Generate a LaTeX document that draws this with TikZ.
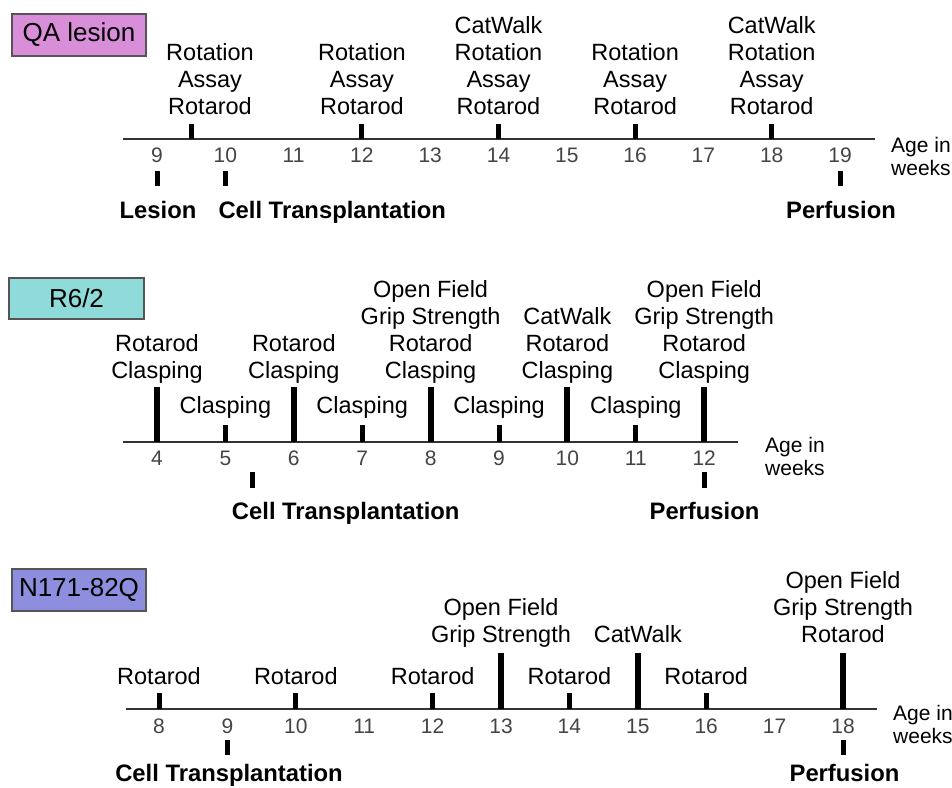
\documentclass[tikz,border=0pt]{standalone}
\usepackage{fontspec}
\setmainfont{Liberation Sans}
\definecolor{qafill}{HTML}{D98ED9}
\definecolor{rfill}{HTML}{8EDBD9}
\definecolor{nfill}{HTML}{8E8EDE}
\definecolor{numgray}{HTML}{444444}
\definecolor{axisgray}{HTML}{333333}
\definecolor{boxgray}{HTML}{555555}
\newcommand{\evl}[1]{\begin{tabular}[b]{@{}c@{}}#1\end{tabular}}
\begin{document}
\begin{tikzpicture}[x=1pt,y=-1pt,
  ev/.style={font=\fontsize{23.5}{27}\selectfont, anchor=base, inner sep=0pt},
  num/.style={font=\fontsize{21}{24}\selectfont, text=numgray, anchor=base, inner sep=0pt},
  boldlab/.style={font=\fontsize{23.8}{27}\selectfont\bfseries, anchor=base, inner sep=0pt},
  agelab/.style={font=\fontsize{21}{23}\selectfont, anchor=base west, inner sep=0pt},
  axis/.style={line width=1.5pt, draw=axisgray},
  tag/.style={draw=boxgray, line width=1.2pt, inner sep=0pt, font=\fontsize{26}{30}\selectfont, minimum width=134pt, minimum height=42pt},
  tickbar/.style={fill=black}]
\useasboundingbox (0,0) rectangle (952,787);

% ---------------- Panel 1: QA lesion ----------------
\node[tag, fill=qafill] (qa) at (79,35) {QA lesion};
\draw[axis] (123,139) -- (875,139);
\foreach \w in {9,...,19} \node[num] (pan1n\w) at ({157+(\w-9)*68.3},162) {\w};
\foreach \x in {191.2,361.9,498.5,635.1,771.7} \fill[tickbar] (\x-2.5,124) rectangle (\x+2.5,139);
\foreach \x in {157,225.3,840} \fill[tickbar] (\x-2.5,171) rectangle (\x+2.5,186);
\node[ev] (pan1a) at (210,114) {\evl{Rotation\\Assay\\Rotarod}};
\node[ev] (pan1b) at (361.9,114) {\evl{Rotation\\Assay\\Rotarod}};
\node[ev] (pan1c) at (498.5,114) {\evl{CatWalk\\Rotation\\Assay\\Rotarod}};
\node[ev] (pan1d) at (635.1,114) {\evl{Rotation\\Assay\\Rotarod}};
\node[ev] (pan1e) at (771.7,114) {\evl{CatWalk\\Rotation\\Assay\\Rotarod}};
\node[boldlab] (lesion) at (158,218) {Lesion};
\node[boldlab, anchor=base west] (cell1) at (218.3,218) {Cell Transplantation};
\node[boldlab] (perf1) at (841,218) {Perfusion};
\node[agelab] (age1) at (891,152) {\begin{tabular}[t]{@{}l@{}}Age in\\weeks\end{tabular}};

% ---------------- Panel 2: R6/2 ----------------
\node[tag, fill=rfill, minimum width=135pt, minimum height=41pt] (r62) at (76.5,298.5) {R6/2};
\draw[axis] (123,442) -- (738,442);
\foreach \w in {4,...,12} \node[num] (pan2n\w) at ({157+(\w-4)*68.4},465) {\w};
\foreach \w in {4,6,8,10,12} \fill[tickbar] ({157+(\w-4)*68.4-3},387) rectangle ({157+(\w-4)*68.4+3},442);
\foreach \w in {5,7,9,11} {
  \fill[tickbar] ({157+(\w-4)*68.4-2.5},425) rectangle ({157+(\w-4)*68.4+2.5},442);
  \node[ev] (pan2c\w) at ({157+(\w-4)*68.4},413) {Clasping};
}
\node[ev] (pan2a) at (157,378) {\evl{Rotarod\\Clasping}};
\node[ev] (pan2b) at (293.8,378) {\evl{Rotarod\\Clasping}};
\node[ev] (pan2d) at (430.6,378) {\evl{Open Field\\Grip Strength\\Rotarod\\Clasping}};
\node[ev] (pan2e) at (567.4,378) {\evl{CatWalk\\Rotarod\\Clasping}};
\node[ev] (pan2f) at (704.2,378) {\evl{Open Field\\Grip Strength\\Rotarod\\Clasping}};
\foreach \x in {252.8,704.2} \fill[tickbar] (\x-2.5,472) rectangle (\x+2.5,488);
\node[boldlab] (cell2) at (345.7,519) {Cell Transplantation};
\node[boldlab] (perf2) at (704.5,519) {Perfusion};
\node[agelab] (age2) at (765,452) {\begin{tabular}[t]{@{}l@{}}Age in\\weeks\end{tabular}};

% ---------------- Panel 3: N171-82Q ----------------
\node[tag, fill=nfill] (n171) at (79,590) {N171-82Q};
\draw[axis] (126,709) -- (877,709);
\foreach \w in {8,...,18} \node[num] (pan3n\w) at ({159+(\w-8)*68.4},733) {\w};
\foreach \w in {8,10,12,14,16} {
  \fill[tickbar] ({159+(\w-8)*68.4-2.5},693) rectangle ({159+(\w-8)*68.4+2.5},709);
  \node[ev] (pan3r\w) at ({159+(\w-8)*68.4},684) {Rotarod};
}
\foreach \w in {13,15,18} \fill[tickbar] ({159+(\w-8)*68.4-3},653) rectangle ({159+(\w-8)*68.4+3},709);
\node[ev] (pan3a) at (501,642) {\evl{Open Field\\Grip Strength}};
\node[ev] (pan3b) at (637.8,642) {CatWalk};
\node[ev] (pan3c) at (843,642) {\evl{Open Field\\Grip Strength\\Rotarod}};
\foreach \x in {227.4,843} \fill[tickbar] (\x-2.5,740) rectangle (\x+2.5,755);
\node[boldlab] (cell3) at (229,781) {Cell Transplantation};
\node[boldlab] (perf3) at (844.5,781) {Perfusion};
\node[agelab] (age3) at (893,720) {\begin{tabular}[t]{@{}l@{}}Age in\\weeks\end{tabular}};
\end{tikzpicture}
\end{document}
